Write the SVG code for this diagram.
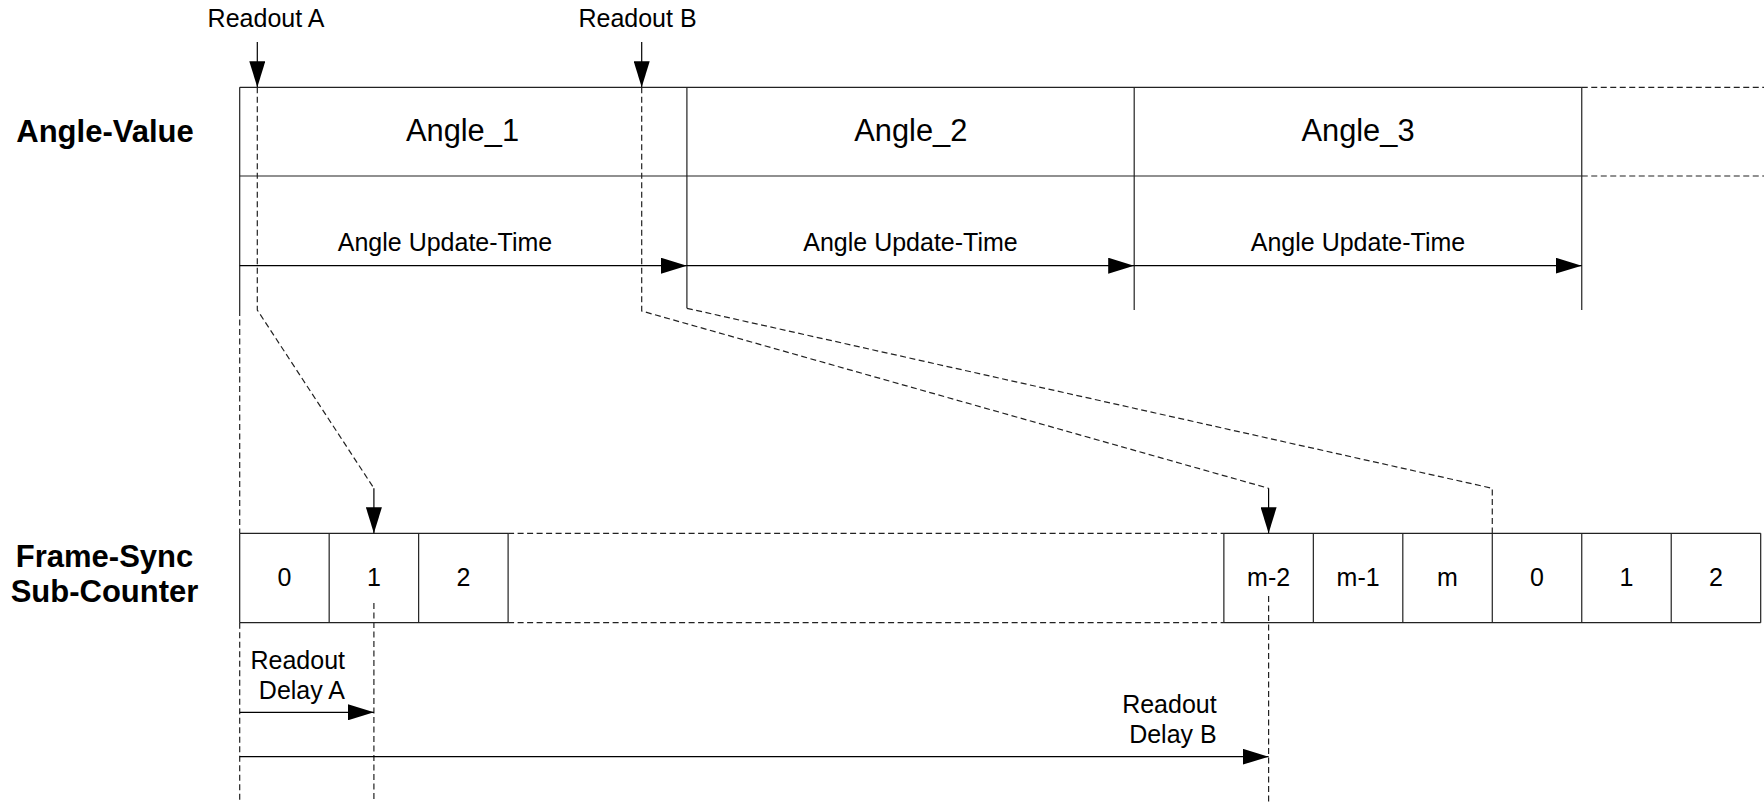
<svg xmlns="http://www.w3.org/2000/svg" width="1764" height="802" viewBox="0 0 1764 802">
<defs>
<marker id="ah" markerUnits="userSpaceOnUse" markerWidth="26" markerHeight="16" refX="26" refY="8" orient="auto">
<path d="M0,0 L26,8 L0,16 z" fill="#000"/>
</marker>
<style>
.ln{stroke:#222;stroke-width:1.2;fill:none}
.dl{stroke:#222;stroke-width:1.2;fill:none;stroke-dasharray:6 3.5}
.ar{stroke:#000;stroke-width:1.2;fill:none;marker-end:url(#ah)}
.t{font-family:"Liberation Sans",Arial,sans-serif;fill:#000;text-anchor:middle}
.s{font-size:25px}
.b{font-size:31px;font-weight:bold}
.big{font-size:30.8px}
.e{text-anchor:end}
</style>
</defs>
<rect width="1764" height="802" fill="#fff"/>

<g id="labels">
<text class="t b" x="105" y="141.7">Angle-Value</text>
<text class="t b" x="104.5" y="566.7">Frame-Sync</text>
<text class="t b" x="104.5" y="601.7">Sub-Counter</text>
<text class="t s" x="266" y="27.3">Readout A</text>
<text class="t s" x="637.5" y="27.3">Readout B</text>
</g>

<g id="angle-row">
<line class="ln" x1="239.7" y1="87.3" x2="1581.75" y2="87.3"/>
<line class="ln" x1="239.7" y1="176" x2="1581.75" y2="176"/>
<line class="dl" x1="1581.75" y1="87.3" x2="1764" y2="87.3"/>
<line class="dl" x1="1581.75" y1="176" x2="1764" y2="176"/>
<line class="ln" x1="239.7" y1="87.3" x2="239.7" y2="310"/>
<line class="ln" x1="686.9" y1="87.3" x2="686.9" y2="308.3"/>
<line class="ln" x1="1134.2" y1="87.3" x2="1134.2" y2="310"/>
<line class="ln" x1="1581.75" y1="87.3" x2="1581.75" y2="310"/>
</g>
<g id="angle1"><text class="t big" x="462.5" y="140.7">Angle_1</text></g>
<g id="angle2"><text class="t big" x="910.8" y="140.7">Angle_2</text></g>
<g id="angle3"><text class="t big" x="1358" y="140.7">Angle_3</text></g>

<g id="update-times">
<text class="t s" x="445" y="250.7">Angle Update-Time</text>
<text class="t s" x="910.5" y="250.7">Angle Update-Time</text>
<text class="t s" x="1358" y="250.7">Angle Update-Time</text>
</g>

<g id="counter">
<line class="ln" x1="239.7" y1="533.3" x2="508.11" y2="533.3"/>
<line class="ln" x1="239.7" y1="622.7" x2="508.11" y2="622.7"/>
<line class="dl" x1="508.11" y1="533.3" x2="1223.87" y2="533.3"/>
<line class="dl" x1="508.11" y1="622.7" x2="1223.87" y2="622.7"/>
<line class="ln" x1="1223.87" y1="533.3" x2="1760.69" y2="533.3"/>
<line class="ln" x1="1223.87" y1="622.7" x2="1760.69" y2="622.7"/>
<path class="ln" d="M239.7,533.3V622.7M329.17,533.3V622.7M418.64,533.3V622.7M508.11,533.3V622.7M1223.87,533.3V622.7M1313.34,533.3V622.7M1402.81,533.3V622.7M1492.28,533.3V622.7M1581.75,533.3V622.7M1671.22,533.3V622.7M1760.69,533.3V622.7"/>
</g>
<g id="cell-0"><text class="t s" x="284.4" y="586">0</text></g>
<g id="cell-1"><text class="t s" x="373.9" y="586">1</text></g>
<g id="cell-2"><text class="t s" x="463.4" y="586">2</text></g>
<g id="cell-m-2"><text class="t s" x="1268.6" y="586">m-2</text></g>
<g id="cell-m-1"><text class="t s" x="1358.1" y="586">m-1</text></g>
<g id="cell-m"><text class="t s" x="1447.5" y="586">m</text></g>
<g id="cell-0b"><text class="t s" x="1537" y="586">0</text></g>
<g id="cell-1b"><text class="t s" x="1626.5" y="586">1</text></g>
<g id="cell-2b"><text class="t s" x="1716" y="586">2</text></g>

<g id="delay-labels">
<text class="t s e" x="345" y="669">Readout</text>
<text class="t s e" x="345" y="699">Delay A</text>
<text class="t s e" x="1216.7" y="713.3">Readout</text>
<text class="t s e" x="1216.7" y="743.3">Delay B</text>
</g>

<g id="connectors">
<line class="ar" x1="257.3" y1="42" x2="257.3" y2="87.3"/>
<line class="ar" x1="641.7" y1="42" x2="641.7" y2="87.3"/>
<line class="ar" x1="239.7" y1="265.7" x2="686.9" y2="265.7"/>
<line class="ar" x1="686.9" y1="265.7" x2="1134.2" y2="265.7"/>
<line class="ar" x1="1134.2" y1="265.7" x2="1581.75" y2="265.7"/>
<polyline class="dl" points="257.3,87.3 257.3,310 373.9,488.3"/>
<line class="ar" x1="373.9" y1="488.3" x2="373.9" y2="533.3"/>
<polyline class="dl" points="641.7,87.3 641.7,311 1268.6,488.3"/>
<line class="ar" x1="1268.6" y1="488.3" x2="1268.6" y2="533.3"/>
<polyline class="dl" points="686.9,308.3 1492.28,488.3 1492.28,533.3"/>
<line class="dl" x1="239.7" y1="310" x2="239.7" y2="533.3"/>
<line class="dl" x1="239.7" y1="622.7" x2="239.7" y2="802"/>
<line class="dl" x1="373.9" y1="603" x2="373.9" y2="802"/>
<line class="dl" x1="1268.6" y1="596" x2="1268.6" y2="802"/>
<line class="ar" x1="239.7" y1="712.3" x2="373.9" y2="712.3"/>
<line class="ar" x1="239.7" y1="756.7" x2="1268.6" y2="756.7"/>
</g>
</svg>
